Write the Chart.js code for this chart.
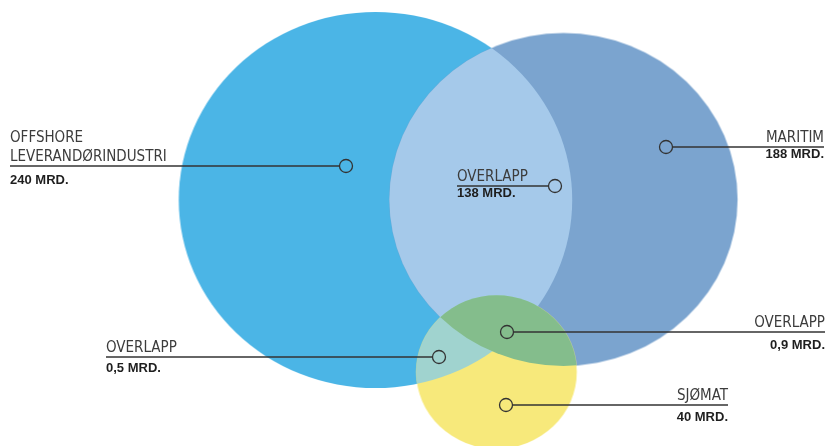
<!DOCTYPE html>
<html>
<head>
<meta charset="utf-8">
<script src="https://cdn.jsdelivr.net/npm/chart.js@4/dist/chart.umd.min.js"></script>
<style>html,body{margin:0;padding:0;background:#fff}</style>
</head>
<body>
<canvas id="venn" width="825" height="446"></canvas>
<script>
/* data: sets and overlaps (MRD.) */
var setNames=[['OFFSHORE','LEVERANDØRINDUSTRI'],['MARITIM'],['SJØMAT']];
var setValues=[240,188,40];
var overlapNames=[['OVERLAPP'],['OVERLAPP'],['OVERLAPP']];
var overlapValues=[138,0.5,0.9];
var overlapSets=[[0,1],[0,2],[1,2]];

/* layout (chart units) */
var setX=[375.5,563.5,496.5];
var setY=[200,199.5,372];
var markerX=[346,666,506,555,439,507];
var markerY=[166,147,405,186,357,332];
var labelX=[10,824,728,457,106,825];
var valueDy=[18,11,16,11,15,17];

/* styles */
var setColors=['#4bb5e6','#7ba4cf','#f7e97b'];
var overlapColors=['#a5c9ea','#a0d3cf','#84bd8c'];
var k=12.14;      // radius per sqrt(MRD.)
var stretch=1.046; // the original is a bit wider than tall

var names=setNames.concat(overlapNames);
var values=setValues.concat(overlapValues);

function fmt(v){return String(v).replace('.',',')+' MRD.';}

function setRadius(c){
 var x=c.chart.scales.x;
 if(!x)return 0;
 return Math.abs(x.getPixelForValue(k*Math.sqrt(setValues[c.dataIndex]))-x.getPixelForValue(0));
}

/* point style: a filled ellipse */
var ellCache={};
function ellipseStyle(c){
 var ry=setRadius(c);
 if(!ry)return 'circle';
 var i=c.dataIndex,rx=ry*stretch,key=i+':'+ry.toFixed(2);
 if(!ellCache[key]){
  var cv=document.createElement('canvas');
  cv.width=Math.ceil(rx)*2+2;cv.height=Math.ceil(ry)*2+2;
  var g=cv.getContext('2d');
  g.fillStyle=setColors[i];
  g.beginPath();g.ellipse(cv.width/2,cv.height/2,rx,ry,0,0,Math.PI*2);g.fill();
  ellCache[key]=cv;
 }
 return ellCache[key];
}

/* draws overlap regions and the callouts */
var vennPlugin={
 id:'venn',
 afterDatasetDraw:function(chart,args){
  if(args.index!==0)return;
  var ctx=chart.ctx,pts=args.meta.data;
  function path(p){
   ctx.beginPath();
   ctx.ellipse(p.x,p.y,p.options.radius*stretch,p.options.radius,0,0,Math.PI*2);
  }
  // overlaps
  overlapSets.forEach(function(s,i){
   ctx.save();
   path(pts[s[0]]);ctx.clip();
   path(pts[s[1]]);
   ctx.fillStyle=overlapColors[i];ctx.fill();
   ctx.restore();
  });
  // callouts
  var sx=chart.scales.x,sy=chart.scales.y,r=6.5;
  ctx.save();
  names.forEach(function(n,i){
   var mx=sx.getPixelForValue(markerX[i]),my=sy.getPixelForValue(markerY[i]);
   var lx=sx.getPixelForValue(labelX[i]);
   var left=lx<mx;
   ctx.beginPath();
   ctx.moveTo(lx,my);ctx.lineTo(left?mx-r:mx+r,my);
   ctx.strokeStyle='#333333';ctx.lineWidth=1.4;ctx.stroke();
   ctx.textAlign=left?'left':'right';
   ctx.textBaseline='alphabetic';
   ctx.font='15px "Liberation Sans Narrow","DejaVu Sans Condensed",sans-serif';
   ctx.fillStyle='#3c3c3c';
   for(var j=0;j<n.length;j++){
    ctx.fillText(n[j],lx,my-5-(n.length-1-j)*19);
   }
   ctx.font='bold 13px "Liberation Sans",Arial,sans-serif';
   ctx.fillStyle='#1e1e1e';
   ctx.fillText(fmt(values[i]),lx,my+valueDy[i]);
  });
  ctx.restore();
 }
};

var chart=new Chart(document.getElementById('venn').getContext('2d'),{
 type:'scatter',
 data:{
  datasets:[
   {
    label:'Sets',
    order:1,
    data:setValues.map(function(v,i){return {x:setX[i],y:setY[i]};}),
    pointBackgroundColor:setColors,
    pointBorderWidth:0,
    pointRadius:setRadius,
    pointStyle:ellipseStyle
   },
   {
    label:'Markers',
    order:0,
    data:markerX.map(function(x,i){return {x:x,y:markerY[i]};}),
    pointRadius:6.5,
    pointBorderWidth:1.3,
    pointBorderColor:'#333333',
    pointBackgroundColor:'rgba(0,0,0,0)'
   }
  ]
 },
 options:{
  responsive:false,
  animation:false,
  events:[],
  layout:{padding:0,autoPadding:false},
  plugins:{legend:{display:false},tooltip:{enabled:false}},
  scales:{
   x:{type:'linear',min:0,max:825,display:false},
   y:{type:'linear',min:0,max:446,reverse:true,display:false}
  }
 },
 plugins:[vennPlugin]
});
</script>
</body>
</html>
